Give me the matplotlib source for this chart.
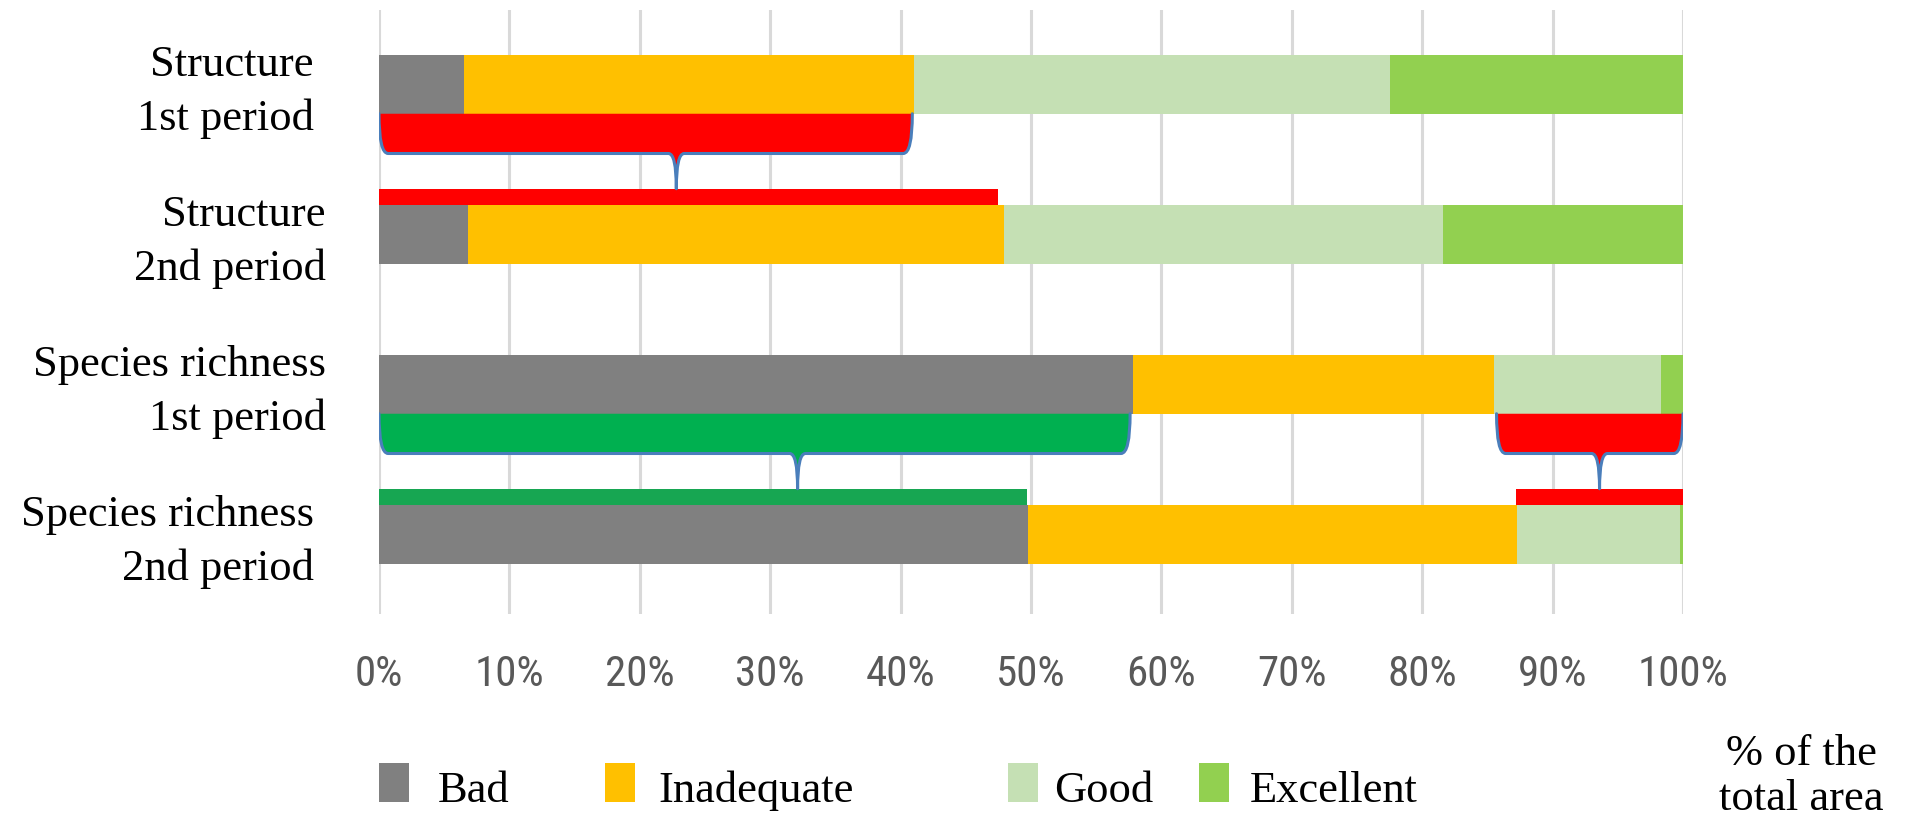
import matplotlib
matplotlib.use("Agg")
import matplotlib.pyplot as plt
from matplotlib.path import Path
from matplotlib.patches import PathPatch, Rectangle
from matplotlib import font_manager
import numpy as np

# ---------------- data ----------------
rows = ["Structure\n1st period", "Structure\n2nd period",
        "Species richness\n1st period", "Species richness\n2nd period"]
categories = ["Bad", "Inadequate", "Good", "Excellent"]
bad = [6.5, 6.8, 57.8, 49.8]
inadequate = [34.5, 41.1, 27.7, 37.5]
good = [36.5, 33.7, 12.8, 12.5]
excellent = [22.5, 18.4, 1.7, 0.2]
xticks = [0, 10, 20, 30, 40, 50, 60, 70, 80, 90, 100]
xticklabels = ["0%", "10%", "20%", "30%", "40%", "50%", "60%", "70%", "80%", "90%", "100%"]

# change indicator bars drawn on top of 2nd-period bars
ind_rows = [1, 3, 3]
ind_start = [0.0, 0.0, 87.2]
ind_end = [47.5, 49.7, 100.0]
ind_kind = ["red", "green", "red"]

# braces under 1st-period bars
br_rows = [0, 2, 2]
br_start = [0.0, 0.0, 85.7]
br_end = [40.9, 57.6, 100.0]
br_tip = [22.8, 32.1, 93.6]
br_kind = ["red", "green", "red"]

# ---------------- style ----------------
colors = ["#808080", "#FFC000", "#C5E0B4", "#92D050"]
fill_col = {"red": "#FF0000", "green": "#00B050"}
ind_col = {"red": "#FF0000", "green": "#17A652"}
outline = "#4A7EBB"
serif = ["Liberation Serif", "DejaVu Serif"]

installed = {f.name for f in font_manager.fontManager.ttflist}
narrow = [f for f in ["Liberation Sans Narrow", "Roboto Condensed", "Open Sans Condensed",
                      "Lato", "DejaVu Sans"] if f in installed] or ["DejaVu Sans"]

W, H = 1906, 822
fig = plt.figure(figsize=(W / 100, H / 100), dpi=100)
ax_left, ax_right, ax_top, ax_bot = 379, 1683, 10, 614
ax = fig.add_axes([ax_left / W, 1 - ax_bot / H, (ax_right - ax_left) / W, (ax_bot - ax_top) / H])

bh = 0.39
y = np.arange(len(rows))
series = [bad, inadequate, good, excellent]
left = np.zeros(len(rows))
for vals, c, name in zip(series, colors, categories):
    ax.barh(y, vals, left=left, height=bh, color=c, edgecolor="none", zorder=3, label=name)
    left += np.array(vals)

# indicator bars
ih = 0.11
for r, s, e, k in zip(ind_rows, ind_start, ind_end, ind_kind):
    ax.barh(r - bh / 2 - ih / 2, e - s, left=s, height=ih, color=ind_col[k],
            edgecolor="none", zorder=3)

# braces
def brace(x0, x1, xt, ytop, ybody, ytip, fc):
    cx, cw = 0.7, 0.6
    verts = [(x0, ytop),
             (x0, ybody), (x0 + cx, ybody),
             (xt - cw, ybody),
             (xt, ybody), (xt, ytip),
             (xt, ybody), (xt + cw, ybody),
             (x1 - cx, ybody),
             (x1, ybody), (x1, ytop)]
    codes = [Path.MOVETO,
             Path.CURVE3, Path.CURVE3,
             Path.LINETO,
             Path.CURVE3, Path.CURVE3,
             Path.CURVE3, Path.CURVE3,
             Path.LINETO,
             Path.CURVE3, Path.CURVE3]
    fill = Path(verts + [(x0, ytop)], codes + [Path.CLOSEPOLY])
    ax.add_patch(PathPatch(fill, facecolor=fc, edgecolor="none", zorder=4))
    ax.add_patch(PathPatch(Path(verts, codes), facecolor="none", edgecolor=outline,
                           lw=2.2, zorder=5, capstyle="round", joinstyle="round"))

for r, s, e, t, k in zip(br_rows, br_start, br_end, br_tip, br_kind):
    ytop = r + bh / 2
    ytip = (r + 1) - bh / 2 - ih
    brace(s, e, t, ytop, ytop + 0.265, ytip, fill_col[k])

# axes styling
ax.set_xlim(0, 100)
px_per_unit = 150.0
ax.set_ylim((ax_bot - 84.5) / px_per_unit, -(84.5 - ax_top) / px_per_unit)
for s in ax.spines.values():
    s.set_visible(False)
ax.set_xticks(xticks)
ax.set_xticklabels(xticklabels, family=narrow, fontsize=31, color="#595959")
ax.tick_params(axis="x", length=0, pad=29)
ax.set_yticks(y)
ax.set_yticklabels([])
ax.tick_params(axis="y", length=0)
ax.xaxis.grid(True, color="#D9D9D9", lw=2.2, zorder=0)
ax.set_axisbelow(True)

# row labels, right-aligned left of the axes
label_right_px = [314, 326, 326, 314]
for yi, lab, rx in zip(y, rows, label_right_px):
    ax.text((rx - ax_left) / (ax_right - ax_left), yi + 0.05, lab,
            transform=ax.get_yaxis_transform(), family=serif, fontsize=32,
            ha="right", va="center", multialignment="right", linespacing=1.45)

# legend (manual layout)
leg_marker_x = [379, 605, 1008, 1199]
leg_text_x = [438, 658, 1054, 1250]
for mx, tx, c, name in zip(leg_marker_x, leg_text_x, colors, categories):
    fig.add_artist(Rectangle((mx / W, 1 - 802 / H), 30 / W, 39 / H,
                             transform=fig.transFigure, facecolor=c, edgecolor="none"))
    fig.text(tx / W, 1 - 802 / H, name, family=serif, fontsize=32, ha="left",
             va="baseline", color="black")

fig.text(1801 / W, 1 - 765 / H, "% of the", family=serif, fontsize=32, ha="center",
         va="baseline")
fig.text(1801 / W, 1 - 810 / H, "total area", family=serif, fontsize=32, ha="center",
         va="baseline")

fig.savefig("out.png", dpi=100, facecolor="white")
